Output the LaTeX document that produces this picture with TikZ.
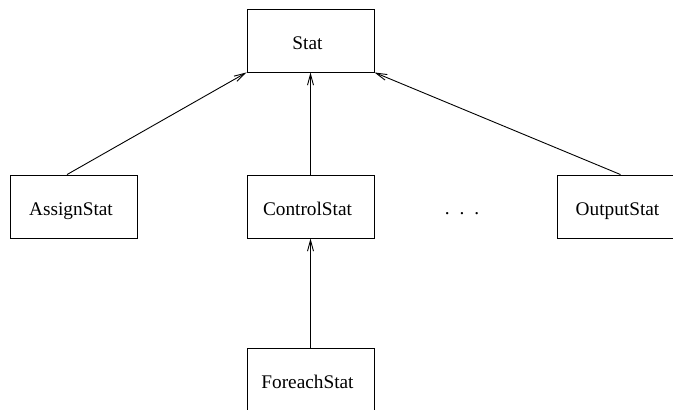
\documentclass[tikz,border=0pt]{standalone}
\usepackage{fontspec}
\setmainfont{Liberation Serif}
\usetikzlibrary{arrows.meta}

\tikzset{
    classbox/.style={draw, line width=0.9pt, rectangle, minimum width=127pt, minimum height=63pt, inner sep=0pt,
        text height=21.8pt, text depth=4pt, execute at end node={\hspace*{6pt}},
        font=\fontsize{19.3}{23}\selectfont},
    inherit/.style={line width=0.9pt, -{Straight Barb[length=11pt,width=6pt,line width=0.9pt]}}
}

\begin{document}
\begin{tikzpicture}[x=1pt,y=-1pt]
    \useasboundingbox (0,0) rectangle (673,410);
    \clip (0,0) rectangle (673,410);

    \node[classbox] (stat) at (310.5,40.5) {Stat};
    \node[classbox] (assign) at (74,206.5) {AssignStat};
    \node[classbox] (control) at (310.5,206.5) {ControlStat};
    \node[classbox] (output) at (620.5,206.5) {OutputStat};
    \node[classbox] (foreach) at (310.5,379.5) {ForeachStat};

    \node[font=\fontsize{19.3}{23}\selectfont] (dots) at (462,214) {.\hspace{10pt}.\hspace{10pt}.};

%    \draw (assign.north) -- (stat.south);

    \draw[inherit] ([xshift=-7pt]assign.north) -- (stat.south west);
    \draw[inherit] (control.north) -- (stat.south);
    \draw[inherit] (output.north) -- (stat.south east);
    \draw[inherit] (foreach.north) -- (control.south);

\end{tikzpicture}
\end{document}
